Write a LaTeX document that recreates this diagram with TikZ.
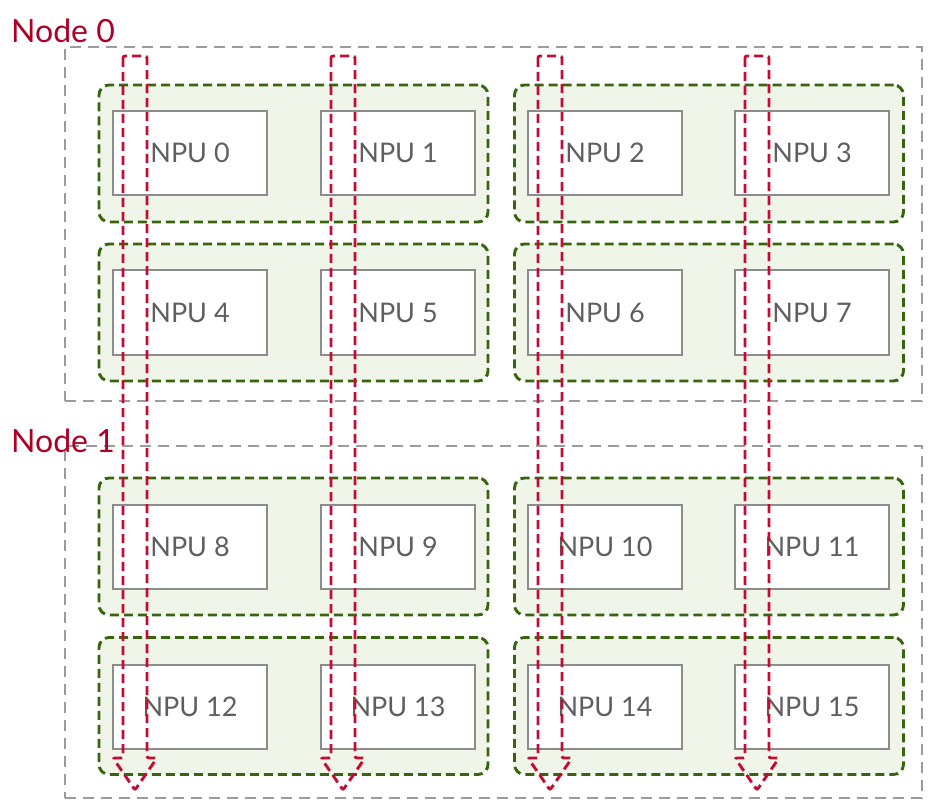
\documentclass[tikz,border=0pt]{standalone}
\usepackage{fontspec}
\setmainfont{Lato}
\usetikzlibrary{calc}
\definecolor{nodered}{RGB}{172,0,36}
\definecolor{grpgreen}{RGB}{56,100,14}
\definecolor{grpfill}{RGB}{239,246,233}
\definecolor{npugray}{RGB}{140,140,140}
\definecolor{txtgray}{RGB}{95,95,95}
\definecolor{outergray}{RGB}{155,155,155}
\definecolor{arrred}{RGB}{196,12,50}
\tikzset{
  outerbox/.style={draw=outergray, line width=1.8pt, dash pattern=on 11pt off 7pt, rectangle, inner sep=0pt},
  grpbox/.style={draw=grpgreen, fill=grpfill, line width=2.9pt, dash pattern=on 9pt off 5pt, rounded corners=10pt, minimum width=389pt, minimum height=137pt, inner sep=0pt},
  npubox/.style={draw=npugray, fill=white, line width=2pt, minimum width=154pt, minimum height=84pt, inner sep=0pt, text=txtgray, font=\fontsize{27}{27}\selectfont},
  nodelabel/.style={anchor=base west, text=nodered, inner sep=0pt, font=\fontsize{32}{32}\selectfont},
  flowarrow/.style={draw=arrred, line width=2.9pt, dash pattern=on 9pt off 5pt, rounded corners=2pt}
}
\begin{document}
\begin{tikzpicture}[x=1pt,y=-1pt]
\useasboundingbox (0,0) rectangle (929,802);
% outer node boxes
\node[outerbox, minimum width=857pt, minimum height=354pt] (node0) at (493.5,224) {};
\node[outerbox, minimum width=857pt, minimum height=352pt] (node1) at (493.5,622) {};
% groups
\foreach \gx/\gi in {293.5/a,709/b}{
  \foreach \gy/\gj in {153.5/1,312.5/2,546.5/3,706/4}{
    \node[grpbox] (g\gi\gj) at (\gx,\gy) {};
  }
}
% NPUs
\foreach \r/\cy in {0/153,1/312.5,2/547,3/707}{
  \foreach \c/\cx in {0/190,1/398,2/605,3/812}{
    \pgfmathtruncatemacro{\n}{4*\r+\c}
    \node[npubox] (npu\n) at (\cx,\cy) {NPU \n};
  }
}
% labels
\node[nodelabel] (lbl0) at (11,43) {Node 0};
\node[nodelabel] (lbl1) at (11,452) {Node 1};
% arrows
\foreach \k/\ax in {0/135,1/343,2/550,3/757}{
  \coordinate (top\k) at (\ax,56);
  \coordinate (tip\k) at (\ax,790);
  \draw[flowarrow] ($(top\k)+(-12,0)$) -- ($(tip\k)+(-12,-32)$) -- ($(tip\k)+(-22,-32)$)
     -- (tip\k) -- ($(tip\k)+(22,-32)$) -- ($(tip\k)+(12,-32)$) -- ($(top\k)+(12,0)$) -- cycle;
}
\end{tikzpicture}
\end{document}
